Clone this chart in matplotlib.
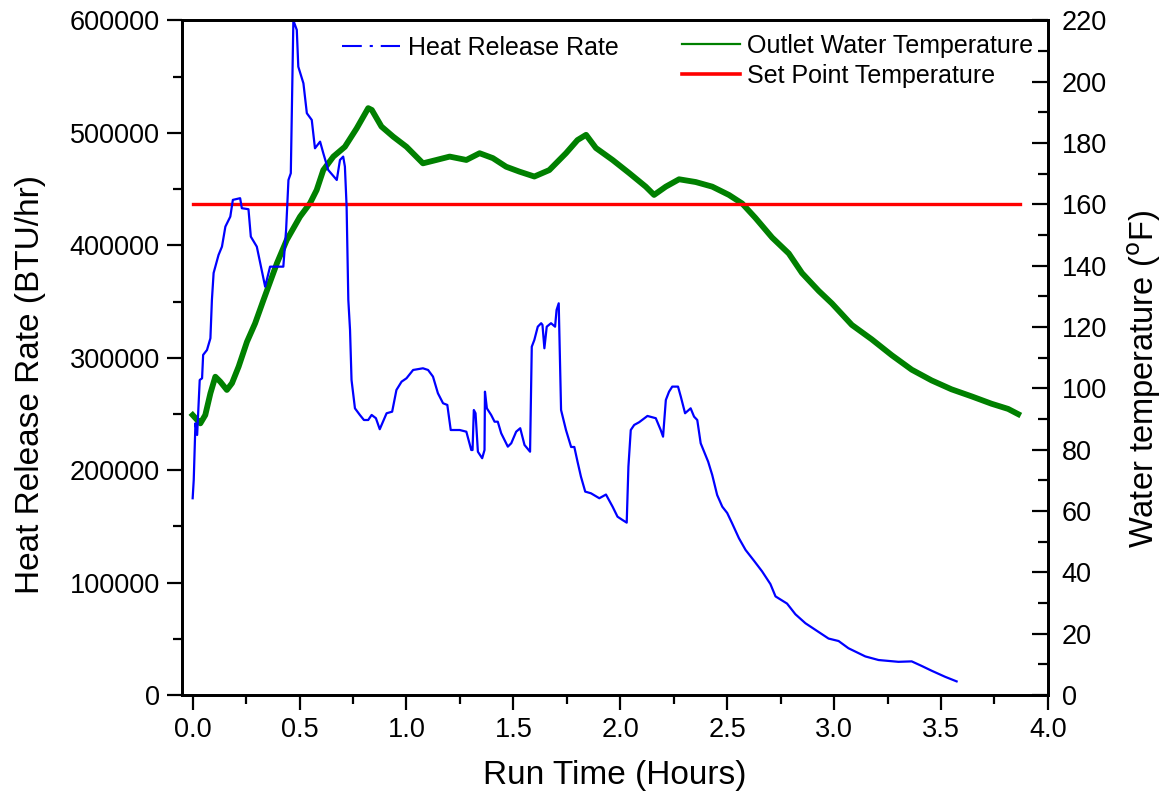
import matplotlib
matplotlib.use("Agg")
import matplotlib.pyplot as plt
from matplotlib.lines import Line2D
from matplotlib.ticker import MultipleLocator

plt.rcParams["font.family"] = ["Liberation Sans", "DejaVu Sans"]

# Heat release rate (BTU/hr) against run time (hours)
hrr_time = [0.000, 0.005, 0.013, 0.021, 0.028, 0.033, 0.044, 0.049, 0.067, 0.083,
            0.090, 0.098, 0.121, 0.137, 0.153, 0.176, 0.188, 0.222, 0.230, 0.261,
            0.272, 0.300, 0.316, 0.339, 0.362, 0.424, 0.437, 0.448, 0.459, 0.471,
            0.487, 0.494, 0.518, 0.534, 0.557, 0.572, 0.596, 0.611, 0.634, 0.674,
            0.689, 0.704, 0.712, 0.720, 0.728, 0.736, 0.743, 0.759, 0.782, 0.801,
            0.821, 0.837, 0.857, 0.875, 0.907, 0.933, 0.953, 0.977, 1.000, 1.031,
            1.077, 1.101, 1.124, 1.147, 1.171, 1.191, 1.207, 1.249, 1.280, 1.303,
            1.309, 1.315, 1.323, 1.334, 1.354, 1.365, 1.367, 1.376, 1.396, 1.412,
            1.427, 1.443, 1.474, 1.490, 1.513, 1.532, 1.552, 1.578, 1.586, 1.598,
            1.614, 1.630, 1.636, 1.645, 1.656, 1.676, 1.695, 1.702, 1.712, 1.723,
            1.746, 1.770, 1.785, 1.800, 1.816, 1.836, 1.863, 1.902, 1.933, 1.964,
            1.987, 2.010, 2.030, 2.038, 2.049, 2.065, 2.088, 2.127, 2.166, 2.189,
            2.200, 2.213, 2.228, 2.243, 2.270, 2.283, 2.303, 2.329, 2.345, 2.360,
            2.376, 2.411, 2.430, 2.453, 2.477, 2.500, 2.523, 2.555, 2.586, 2.625,
            2.663, 2.702, 2.726, 2.780, 2.819, 2.866, 2.928, 2.974, 3.021, 3.067,
            3.146, 3.208, 3.301, 3.363, 3.410, 3.456, 3.519, 3.573]
hrr_value = [175000, 191300, 241700, 231300, 259500, 280200, 281700, 302500, 306900, 317300,
             351400, 375400, 391400, 398800, 416600, 425500, 440400, 441900, 433000, 432100,
             407700, 398800, 384000, 363200, 381000, 381000, 413700, 458100, 464100, 600000,
             591600, 558900, 544100, 517500, 511500, 486300, 492200, 481900, 467000, 458100,
             475900, 478900, 470000, 434400, 351400, 324700, 280200, 255000, 249100, 244600,
             244600, 249100, 246200, 236400, 250600, 252000, 271300, 278700, 281700, 289100,
             290600, 289100, 283200, 268400, 259500, 258000, 235700, 235700, 234200, 217900,
             217900, 253500, 250600, 216400, 210600, 217900, 269800, 255000, 249100, 243100,
             243100, 232800, 220900, 223900, 234200, 237300, 222400, 216400, 309800, 315800,
             327600, 330700, 329200, 308400, 327600, 330700, 327600, 342500, 348400, 253500,
             235700, 220600, 220600, 207500, 194200, 180900, 179400, 175000, 178300, 167500,
             158600, 155700, 153300, 203100, 235700, 240200, 242600, 248200, 246200, 235700,
             229800, 262400, 269800, 274300, 274300, 265400, 250600, 255000, 247600, 244600,
             223900, 207500, 195700, 177900, 167500, 161900, 152700, 139400, 129000, 119500,
             110000, 98700, 87700, 81300, 71800, 63800, 56000, 50200, 48000, 41600,
             34300, 31100, 29500, 29900, 25800, 21600, 16200, 12100]

# Outlet water temperature (deg F) against run time (hours)
water_time = [0.000, 0.021, 0.036, 0.059, 0.083, 0.106, 0.129, 0.160, 0.184, 0.215,
              0.254, 0.292, 0.331, 0.394, 0.440, 0.502, 0.549, 0.580, 0.611, 0.658,
              0.712, 0.767, 0.821, 0.838, 0.883, 0.938, 1.000, 1.077, 1.140, 1.202,
              1.280, 1.342, 1.404, 1.466, 1.528, 1.598, 1.668, 1.746, 1.800, 1.840,
              1.886, 1.964, 2.042, 2.119, 2.158, 2.213, 2.275, 2.353, 2.430, 2.508,
              2.570, 2.632, 2.710, 2.788, 2.850, 2.928, 2.990, 3.083, 3.176, 3.270,
              3.363, 3.456, 3.549, 3.643, 3.736, 3.814, 3.861]
water_temp = [91.3, 89.7, 88.6, 91.3, 98.4, 103.8, 102.2, 99.5, 101.7, 107.1,
              115.2, 121.2, 128.8, 140.8, 148.4, 156.0, 160.4, 164.7, 171.2, 175.6,
              178.8, 184.8, 191.4, 190.8, 185.4, 182.1, 178.8, 173.4, 174.5, 175.6,
              174.5, 176.7, 175.1, 172.3, 170.7, 169.1, 171.2, 176.7, 181.0, 182.7,
              178.4, 174.5, 170.2, 165.8, 163.1, 165.8, 168.2, 167.3, 165.8, 163.1,
              160.3, 155.6, 149.2, 144.0, 137.6, 131.8, 127.7, 120.7, 116.0, 110.8,
              106.1, 102.6, 99.7, 97.4, 95.0, 93.3, 91.6]

# Set point
setpoint_time = [0.0, 3.868]
setpoint_temp = [160, 160]

fig = plt.figure(figsize=(11.65, 7.96), dpi=100)
ax = fig.add_axes([0.1562, 0.1269, 0.7433, 0.8474])
ax2 = ax.twinx()

ax2.plot(water_time, water_temp, color="#008000", lw=4.2, solid_joinstyle="round")
ax2.plot(setpoint_time, setpoint_temp, color="#ff0000", lw=2.4)
ax.plot(hrr_time, hrr_value, color="#0000ff", lw=1.6)

# keep the heat release curve above the twin axis lines
ax.set_zorder(ax2.get_zorder() + 1)
ax.patch.set_visible(False)

ax.set_xlim(-0.05, 4.0)
ax.set_ylim(0, 600000)
ax2.set_ylim(0, 220)

ax.xaxis.set_major_locator(MultipleLocator(0.5))
ax.xaxis.set_minor_locator(MultipleLocator(0.25))
ax.yaxis.set_major_locator(MultipleLocator(100000))
ax.yaxis.set_minor_locator(MultipleLocator(50000))
ax2.yaxis.set_major_locator(MultipleLocator(20))
ax2.yaxis.set_minor_locator(MultipleLocator(10))
ax.xaxis.set_major_formatter(plt.FormatStrFormatter("%.1f"))

ax.tick_params(axis="both", which="major", direction="out", length=11, width=1.6,
               labelsize=19.5, pad=5)
ax.tick_params(axis="both", which="minor", direction="out", length=6.5, width=1.6)
ax.tick_params(axis="y", right=False)
ax.tick_params(axis="x", top=False)
ax2.tick_params(axis="y", which="major", direction="in", length=11.5, width=1.6,
                labelsize=19.5, pad=10)
ax2.tick_params(axis="y", which="minor", direction="in", length=7, width=1.6)

for a in (ax, ax2):
    for s in a.spines.values():
        s.set_linewidth(2.0)

ax.set_xlabel("Run Time (Hours)", fontsize=24, labelpad=12)
ax.set_ylabel("Heat Release Rate (BTU/hr)", fontsize=24)
ax.yaxis.set_label_coords(-0.157, 0.46)
ax2.set_ylabel("Water temperature ($^{\\rm o}$F)", fontsize=23.5)
ax2.yaxis.set_label_coords(1.089, 0.468)

hrr_handle = Line2D([], [], color="#0000ff", lw=1.5,
                    linestyle=(0, (9.5, 3.8, 1.5, 3.8)))
water_handle = Line2D([], [], color="#008000", lw=1.6)
setpoint_handle = Line2D([], [], color="#ff0000", lw=2.6)

leg1 = ax.legend([hrr_handle], ["Heat Release Rate"], loc="upper left",
                 bbox_to_anchor=(0.185, 0.977), frameon=False, fontsize=18,
                 handlelength=2.32, handletextpad=0.3, borderpad=0, borderaxespad=0)
ax.add_artist(leg1)
ax.legend([water_handle, setpoint_handle],
          ["Outlet Water Temperature", "Set Point Temperature"], loc="upper left",
          bbox_to_anchor=(0.577, 0.98), frameon=False, fontsize=18,
          handlelength=2.32, handletextpad=0.3, labelspacing=0.25,
          borderpad=0, borderaxespad=0)

fig.savefig("out.png", dpi=100)
